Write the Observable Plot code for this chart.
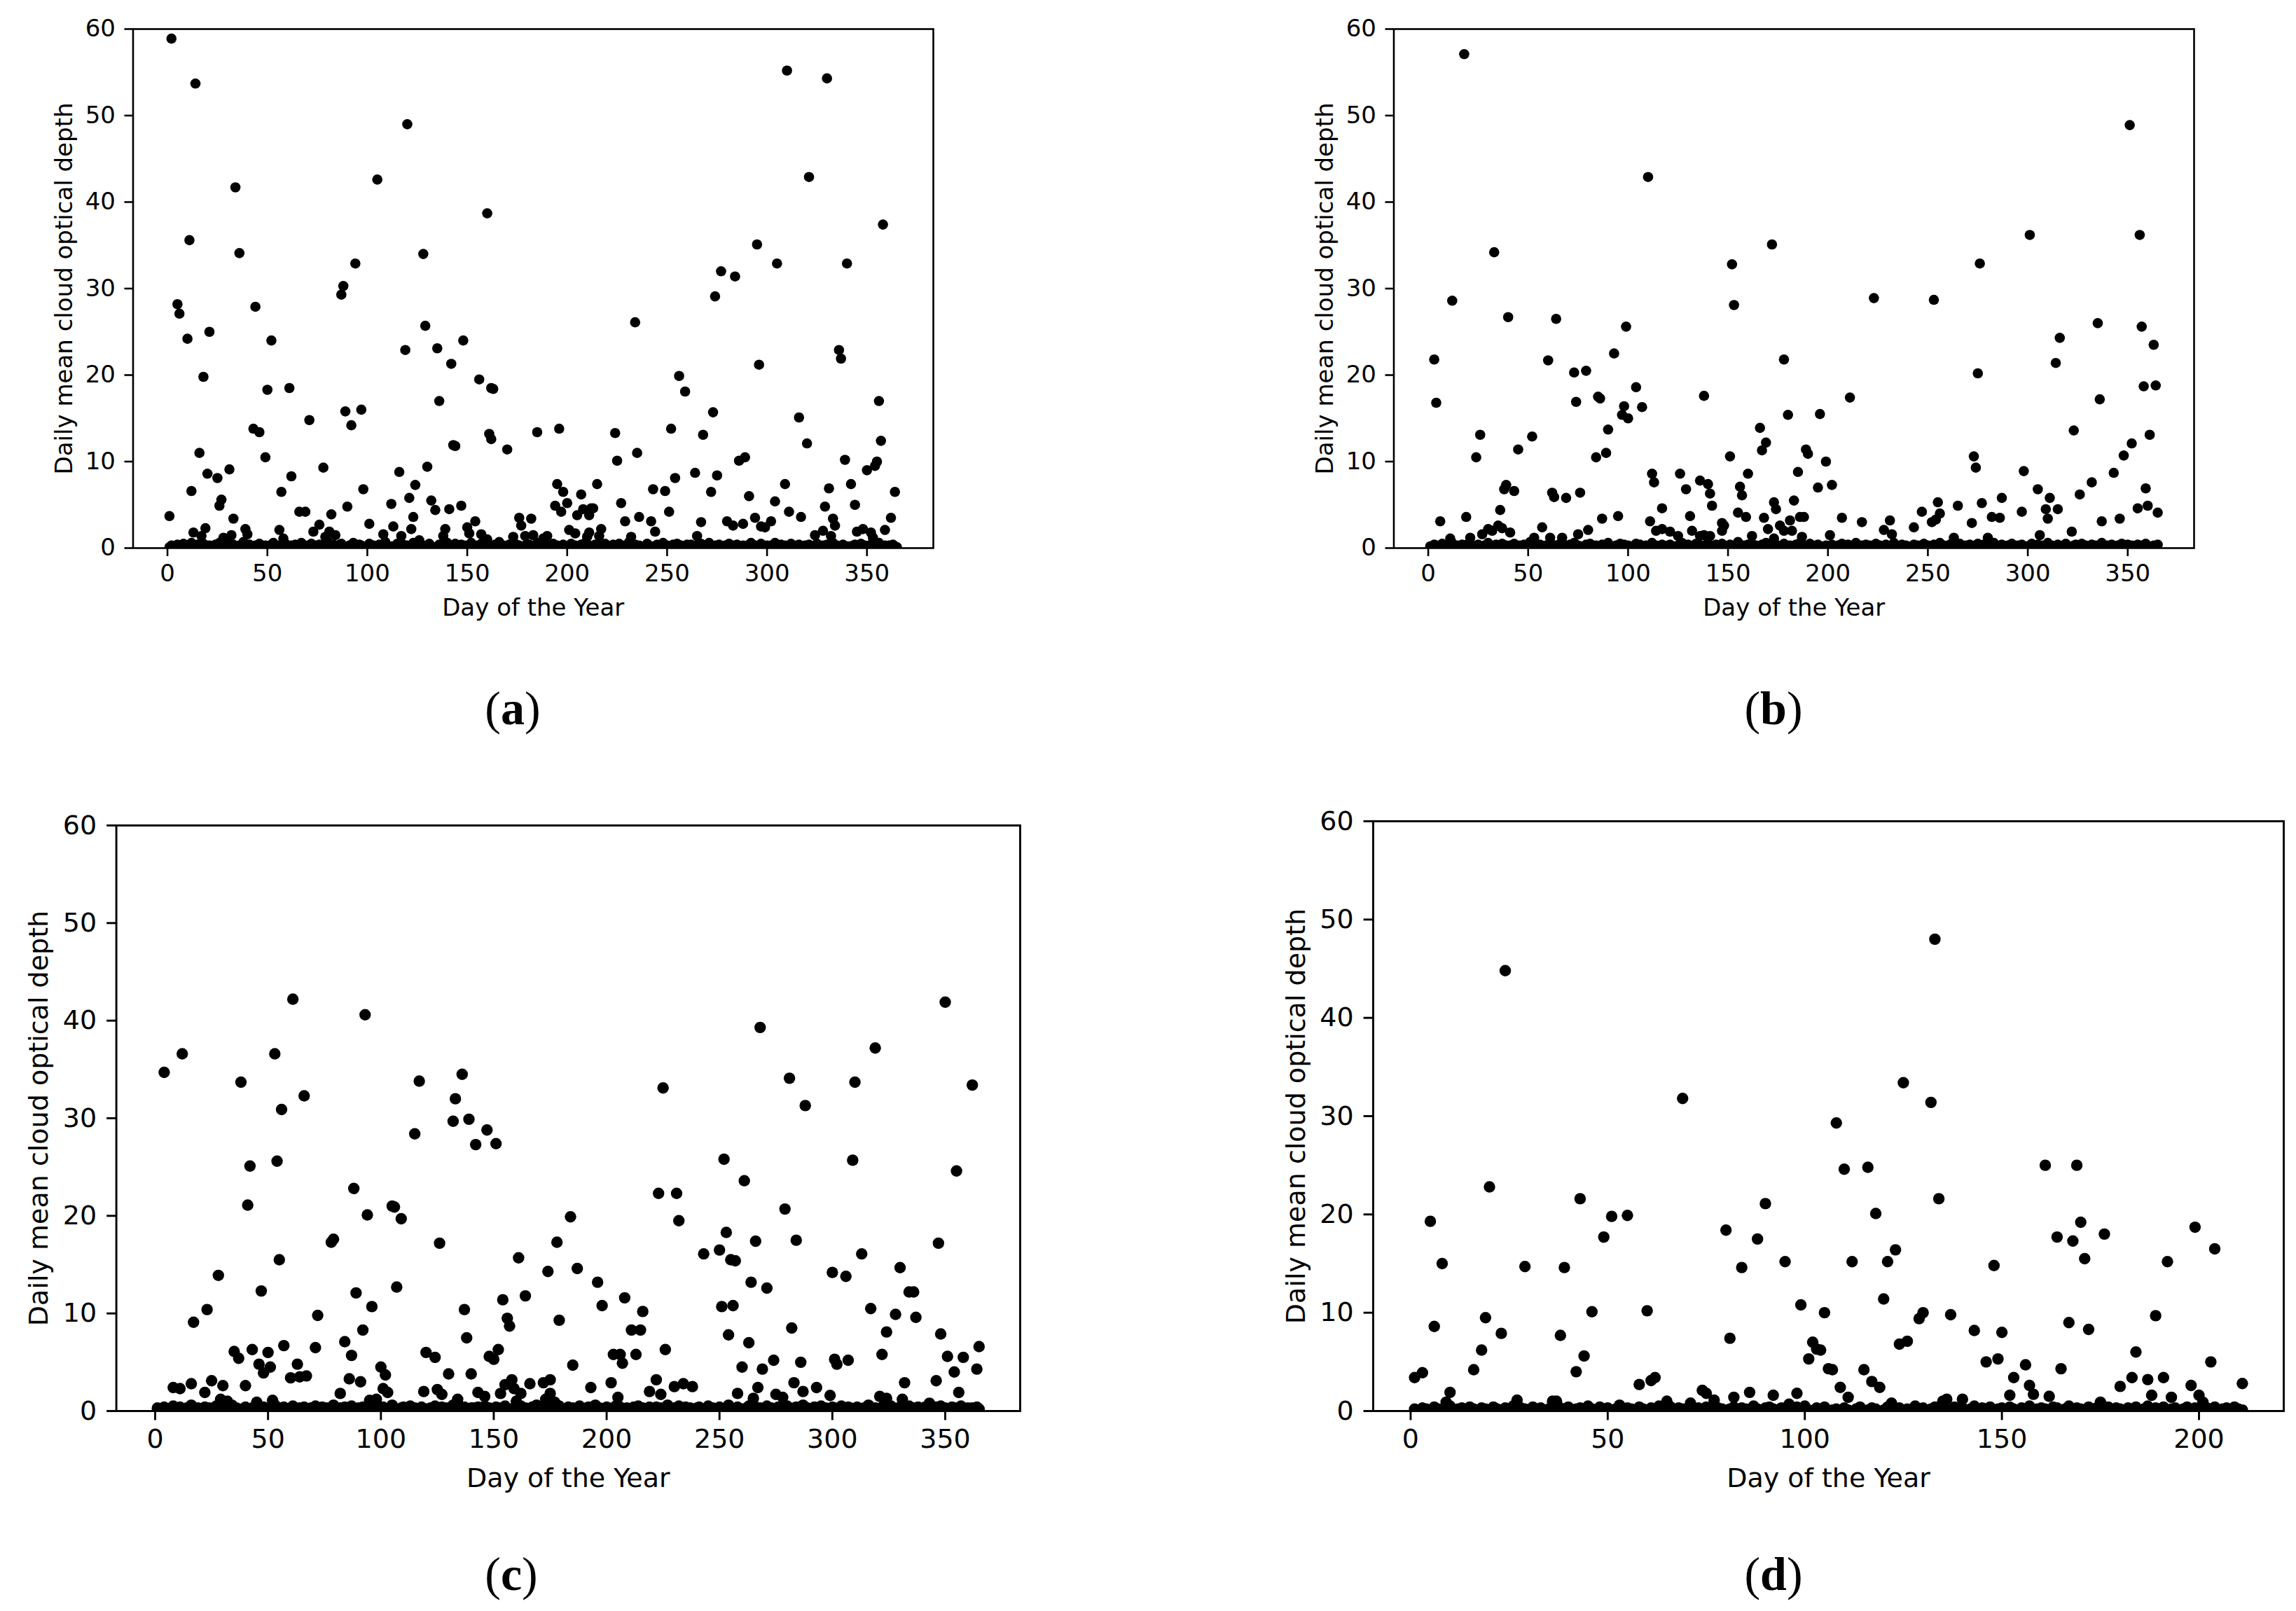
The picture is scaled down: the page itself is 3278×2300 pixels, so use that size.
<!DOCTYPE html>
<html><head><meta charset="utf-8">
<script src="https://cdn.jsdelivr.net/npm/d3@7"></script>
<script src="https://cdn.jsdelivr.net/npm/@observablehq/plot@0.6"></script>
<style>
html,body{margin:0;padding:0;background:#fff;}
#page{position:relative;width:3278px;height:2300px;background:#fff;overflow:hidden;}
#page svg{position:absolute;}
.cap{position:absolute;font-family:"Liberation Serif","DejaVu Serif",serif;font-size:68px;transform:translate(-50%,-50%);line-height:1;white-space:nowrap;color:#000;}
</style></head><body><div id="page"></div>
<script>
// ---- labels / ticks ----
const yLabel = "Daily mean cloud optical depth";
const xLabel = "Day of the Year";
const yTicks = [0, 10, 20, 30, 40, 50, 60];
const xTicksYear = [0, 50, 100, 150, 200, 250, 300, 350];
const xTicksD = [0, 50, 100, 150, 200];
const captionLetters = ["a", "b", "c", "d"];

// ---- panel (a): [day, value] of the visible (raised) points ----
const pointsA = [[2,58.9],[14,53.7],[120,49.0],[34,41.7],[105,42.6],[160,38.7],[11,35.6],[36,34.1],[128,34.0],[94,32.9],
[88,30.3],[87,29.3],[5,28.2],[6,27.1],[44,27.9],[129,25.7],[21,25.0],[10,24.2],[52,24.0],[148,24.0],
[119,22.9],[135,23.1],[142,21.3],[18,19.8],[156,19.5],[50,18.3],[61,18.5],[162,18.5],[163,18.4],[136,17.0],
[89,15.8],[97,16.0],[92,14.2],[71,14.8],[43,13.8],[46,13.4],[161,13.2],[162,12.6],[143,11.9],[144,11.8],
[185,13.4],[170,11.4],[16,11.0],[49,10.5],[31,9.1],[78,9.3],[130,9.4],[20,8.6],[25,8.1],[62,8.3],
[116,8.8],[124,7.3],[12,6.6],[57,6.5],[98,6.8],[121,5.8],[27,5.6],[26,4.9],[132,5.5],[134,4.4],
[112,5.1],[90,4.8],[141,4.5],[147,4.9],[66,4.2],[69,4.2],[82,3.9],[1,3.7],[33,3.4],[123,3.6],
[176,3.5],[182,3.4],[154,3.1],[101,2.8],[76,2.7],[150,2.4],[177,2.6],[113,2.5],[19,2.3],[39,2.2],
[56,2.1],[122,2.2],[139,2.2],[73,1.9],[13,1.8],[40,1.6],[108,1.6],[151,1.7],[157,1.6],[81,1.9],
[84,1.5],[32,1.5],[17,1.4],[117,1.4],[28,1.2],[173,1.3],[183,1.5],[179,1.4],[138,1.4],[160,1.0],
[58,1.1],[79,1.3],[126,0.9],
[310,55.2],[330,54.3],[321,42.9],[358,37.4],[295,35.1],[305,32.9],[340,32.9],[277,32.0],[284,31.4],[274,29.1],
[234,26.1],[336,22.9],[337,21.9],[296,21.2],[256,19.9],[259,18.1],[356,17.0],[273,15.7],[316,15.1],[196,13.8],
[224,13.3],[252,13.8],[268,13.1],[357,12.4],[320,12.1],[225,10.1],[235,11.0],[286,10.1],[289,10.5],[339,10.2],
[355,10.0],[354,9.5],[350,9.0],[254,8.1],[264,8.7],[275,8.4],[195,7.4],[198,6.5],[207,6.2],[215,7.4],
[243,6.8],[249,6.6],[272,6.5],[309,7.4],[331,6.9],[342,7.4],[364,6.5],[291,6.0],[194,4.9],[200,5.2],
[197,4.2],[205,3.8],[208,4.5],[212,4.6],[213,4.6],[211,3.8],[227,5.2],[251,4.2],[304,5.4],[311,4.2],
[329,4.8],[344,5.0],[362,3.5],[229,3.1],[236,3.6],[242,3.1],[267,3.0],[280,3.1],[283,2.6],[288,2.8],
[294,3.5],[297,2.5],[299,2.4],[302,3.1],[317,3.6],[333,3.4],[334,2.6],[359,2.1],[244,1.9],[324,1.5],
[328,2.0],[345,1.9],[348,2.2],[352,1.8],[353,1.2],[332,1.4],[265,1.4],[201,2.1],[204,1.7],[210,1.3],
[211,1.8],[217,2.2],[216,1.4],[190,1.4],[188,1.1],[232,1.3]];
// near-zero band, one value per day (day 1..365)
const lowA = [.1,.3,.2,0,.4,.1,.2,.5,.1,.3,.2,.6,.1,.2,.4,.3,.1,.5,.2,.1,
.3,0,.2,.4,.1,.6,.2,.3,.1,.2,.5,.1,.4,.2,0,.3,.2,.7,.1,.2,
.4,.1,.2,.3,.1,.5,.2,0,.3,.1,.2,.4,.6,.1,.2,.3,.1,.2,.5,.1,
.2,.3,.1,.4,0,.2,.6,.1,.3,.2,.1,.5,.2,.3,.1,.4,.2,.1,.3,.8,
.1,.2,.4,.1,.3,.2,.5,.1,0,.2,.3,.1,.6,.2,.1,.4,.3,.2,.1,.2,
.5,.1,.3,.2,.1,.4,.2,.1,.7,.3,.1,.2,0,.3,.5,.1,.2,.4,.1,.3,
.2,.1,.6,.2,.3,.1,.4,.2,.1,.3,.5,.2,.1,0,.2,.4,.1,.3,.2,.6,
.1,.3,.2,.5,.1,.2,.4,0,.3,.1,.2,.6,.1,.3,.2,.1,.5,.2,.4,.1,
.3,.2,.1,.4,.2,.7,.1,.3,.2,.1,.4,.2,0,.5,.1,.3,.2,.1,.3,.2,
.4,.1,.2,.3,.6,.1,.2,.4,.1,.3,.2,.1,.5,.2,.3,0,.1,.4,.2,.1,
.2,.5,.1,.3,.2,.1,.4,.2,.6,.1,.3,.2,.1,.4,.2,.3,.1,0,.5,.2,
.1,.2,.4,.1,.3,.5,.2,.1,.3,.2,.7,.1,.2,.4,.1,.3,.2,.1,.2,.5,
.3,.1,.2,0,.4,.2,.1,.6,.2,.3,.1,.2,.4,.1,.5,.2,.3,.1,.2,.4,
.2,.4,.1,.3,.2,.1,.5,.2,.3,.1,.6,.2,0,.3,.1,.4,.2,.1,.3,.2,
.5,.1,.3,.2,.4,.1,.2,.3,.1,.2,.4,.6,.1,.3,.2,.1,.5,.2,.1,.3,
.1,.3,.2,.6,.1,.2,.4,.1,.3,.2,0,.5,.2,.1,.3,.4,.1,.2,.3,.1,
.4,.2,.1,.3,.5,.1,.2,.3,.1,.4,.2,.1,.6,.2,.3,.1,.2,.4,.1,.2,
.2,.1,.3,.4,.1,.2,.5,.1,.3,.2,.1,.4,.2,.3,.1,.6,.2,.1,.3,.2,
.3,.1,.4,.2,.1];

// ---- panel (b) ----
const pointsB = [[18,57.1],[110,42.9],[33,34.2],[172,35.1],[152,32.8],[12,28.6],[153,28.1],[40,26.7],[64,26.5],[99,25.6],
[93,22.5],[3,21.8],[60,21.7],[178,21.8],[73,20.3],[79,20.5],[104,18.6],[85,17.5],[86,17.3],[138,17.6],
[4,16.8],[74,16.9],[107,16.3],[98,16.4],[97,15.4],[100,15.0],[180,15.4],[90,13.7],[166,13.9],[26,13.1],
[52,12.9],[169,12.2],[167,11.3],[45,11.4],[89,11.0],[24,10.5],[84,10.5],[151,10.6],[112,8.6],[113,7.6],
[126,8.6],[160,8.6],[185,8.8],[136,7.8],[140,7.4],[156,7.1],[129,6.8],[39,7.3],[38,6.8],[43,6.6],
[62,6.4],[63,5.9],[69,5.8],[76,6.4],[141,6.3],[157,6.1],[142,4.9],[183,5.5],[173,5.3],[174,4.5],
[117,4.6],[155,4.1],[159,3.6],[36,4.4],[19,3.6],[6,3.1],[87,3.4],[95,3.7],[131,3.7],[111,3.1],
[168,3.5],[186,3.6],[147,2.9],[148,2.6],[176,2.6],[181,3.2],[178,2.0],[182,2.0],[170,2.2],[114,2.0],
[117,2.2],[121,1.9],[125,1.4],[132,2.0],[136,1.4],[138,1.5],[141,1.4],[147,2.0],[162,1.4],[30,2.2],
[27,1.6],[32,2.0],[35,2.6],[37,2.3],[41,1.8],[21,1.2],[11,1.1],[57,2.4],[61,1.2],[53,1.2],
[75,1.6],[80,2.1],[67,1.2],[173,1.1],
[351,48.9],[301,36.2],[356,36.2],[276,32.9],[223,28.9],[253,28.7],[335,26.0],[357,25.6],[316,24.3],[363,23.5],
[314,21.4],[275,20.2],[358,18.7],[364,18.8],[211,17.4],[336,17.2],[196,15.5],[323,13.6],[361,13.1],[352,12.1],
[348,10.7],[189,11.4],[190,10.9],[199,10.0],[273,10.6],[274,9.3],[298,8.9],[343,8.7],[332,7.6],[195,7.0],
[202,7.3],[305,6.8],[326,6.2],[359,6.9],[311,5.8],[287,5.8],[255,5.3],[256,4.0],[252,3.0],[254,3.3],
[265,4.9],[277,5.2],[309,4.5],[315,4.5],[297,4.2],[247,4.2],[355,4.6],[360,4.9],[365,4.1],[188,3.6],
[207,3.5],[282,3.6],[286,3.5],[310,3.4],[337,3.1],[346,3.4],[217,3.0],[231,3.2],[272,2.9],[243,2.4],
[322,1.9],[228,2.1],[232,1.6],[201,1.5],[306,1.5],[187,1.3],[263,1.2],[280,1.2]];
const lowB = [.2,.1,.4,.3,.1,.2,.5,.1,.2,.3,.1,.6,.2,.1,.3,.2,.4,.1,.2,.5,
.1,.3,.2,.1,.4,.2,0,.3,.1,.6,.2,.1,.3,.4,.1,.2,.5,.1,.3,.2,
.3,.1,.5,.2,.1,.3,.2,.4,.1,.2,.7,.1,.3,.2,.1,.4,.2,0,.3,.1,
.2,.4,.1,.3,.2,.5,.1,.2,.3,.1,.4,.2,.6,.1,.3,.2,.1,.2,.4,.1,
.5,.2,.1,.3,.1,.2,.4,.1,.3,.6,.2,.1,.2,.3,.1,.5,.2,.4,.1,.3,
.1,.2,.3,.5,.1,.4,.2,.1,.3,.2,.1,.6,.2,.3,.1,.2,.4,.1,.2,.3,
.4,.1,.2,.1,.3,.2,.6,.2,.1,.4,.3,.1,.2,.5,.1,.3,.2,.1,.4,.2,
.2,.3,.1,.4,.2,.1,.5,.3,.1,.2,.4,.1,.3,.2,.7,.1,.2,.3,.1,.4,
.1,.5,.2,.3,.1,.2,.4,.1,.6,.2,.1,.3,.2,.4,.1,.2,.3,.5,.1,.2,
.3,.2,.1,.4,.2,.6,.1,.3,.2,.1,.5,.2,.1,.3,.4,.1,.2,.1,.3,.2,
.2,.4,.1,.2,.3,.1,.5,.2,.1,.4,.2,.3,.1,.6,.2,.1,.3,.2,.4,.1,
.3,.1,.2,.5,.1,.3,.2,.1,.4,.2,.1,.3,.6,.2,.1,.2,.4,.1,.3,.2,
.1,.2,.4,.1,.3,.2,.1,.5,.2,.3,.1,.2,.4,.1,.2,.6,.1,.3,.2,.1,
.4,.2,.1,.3,.2,.5,.1,.2,.3,.1,.4,.2,.1,.3,.5,.2,.1,.4,.2,.3,
.2,.1,.6,.2,.1,.3,.4,.1,.2,.3,.1,.5,.2,.1,.3,.2,.4,.1,.2,.1,
.3,.5,.1,.2,.4,.1,.3,.2,.1,.6,.2,.3,.1,.2,.4,.1,.2,.3,.5,.1,
.2,.1,.3,.4,.1,.2,.5,.1,.3,.2,.1,.4,.2,.3,.1,.2,.6,.1,.2,.3,
.1,.4,.2,.1,.3,.2,.5,.1,.2,.4,.1,.3,.2,.1,.4,.2,.3,.1,.5,.2,
.2,.1,.3,.2,.4];

// ---- panel (c) ----
const pointsC = [[61,42.2],[93,40.6],[12,36.6],[53,36.6],[4,34.7],[38,33.7],[117,33.8],[136,34.5],[66,32.3],[133,32.0],
[56,30.9],[132,29.7],[139,29.9],[147,28.8],[115,28.4],[142,27.3],[151,27.4],[54,25.6],[42,25.1],[88,22.8],
[41,21.1],[105,21.0],[106,20.9],[94,20.1],[109,19.7],[79,17.6],[78,17.3],[126,17.2],[178,17.3],[55,15.5],
[161,15.7],[174,14.3],[28,13.9],[107,12.7],[47,12.3],[89,12.1],[154,11.4],[164,11.8],[96,10.7],[23,10.4],
[137,10.4],[72,9.8],[17,9.1],[156,9.5],[157,8.7],[179,9.3],[92,8.3],[138,7.5],[84,7.1],[57,6.7],
[71,6.5],[43,6.3],[35,6.1],[37,5.4],[120,6.0],[124,5.5],[87,5.7],[152,6.3],[148,5.6],[150,5.3],
[50,6.0],[46,4.8],[51,4.5],[48,3.9],[63,4.8],[100,4.5],[102,3.7],[130,3.8],[140,3.8],[60,3.4],
[64,3.5],[67,3.6],[25,3.1],[16,2.8],[8,2.4],[11,2.3],[30,2.6],[40,2.6],[86,3.3],[91,3.0],
[166,2.8],[158,3.2],[155,2.7],[159,2.3],[175,3.2],[172,2.9],[153,1.8],[22,1.9],[82,1.8],[101,2.3],
[103,1.9],[119,2.0],[125,2.2],[127,1.7],[143,1.9],[146,1.5],[162,1.8],[29,1.2],[32,1.0],[52,1.1],
[45,0.9],[95,1.1],[98,1.2],[134,1.2],[160,1.0],[173,1.2],[175,1.8],[177,0.9],
[350,41.9],[268,39.3],[319,37.2],[281,34.1],[310,33.7],[225,33.1],[362,33.4],[288,31.3],[252,25.8],[309,25.7],
[355,24.6],[261,23.6],[223,22.3],[231,22.3],[184,19.9],[232,19.5],[279,20.7],[253,18.3],[266,17.4],[284,17.5],
[347,17.2],[243,16.1],[250,16.5],[255,15.5],[257,15.4],[313,16.1],[187,14.6],[330,14.7],[196,13.2],[264,13.2],
[300,14.2],[306,13.8],[271,12.6],[334,12.2],[336,12.2],[208,11.6],[198,10.8],[251,10.7],[256,10.8],[216,10.2],
[317,10.5],[328,9.9],[337,9.6],[211,8.3],[215,8.3],[282,8.5],[324,8.1],[254,7.8],[348,7.9],[263,7.0],
[226,6.3],[365,6.6],[203,5.8],[206,5.8],[207,4.9],[213,5.8],[322,5.8],[351,5.6],[358,5.5],[274,5.2],
[301,5.3],[302,4.8],[307,5.2],[286,5.0],[185,4.7],[260,4.5],[269,4.3],[364,4.3],[354,4.0],[222,3.2],
[202,2.9],[346,3.1],[332,2.9],[283,2.9],[193,2.4],[234,2.8],[238,2.5],[230,2.5],[219,2.0],[267,2.4],
[258,1.8],[287,2.0],[293,2.4],[356,1.9],[205,1.4],[224,1.7],[275,1.7],[278,1.4],[265,1.3],[321,1.5],
[324,1.3],[331,1.2],[343,0.8],[299,1.6]];
const lowC = [.3,.2,.1,.4,.2,.1,.3,.5,.1,.2,.4,.1,.2,.3,.1,.6,.2,.1,.3,.2,
.1,.4,.2,.3,.1,.2,.5,.1,.3,.2,.1,.4,.2,.6,.1,.3,.2,.1,.2,.4,
.2,.1,.3,.2,.5,.1,.2,.4,.1,.3,.2,.1,.6,.2,.3,.1,.4,.2,.1,.3,
.5,.2,.1,.3,.2,.4,.1,.2,.3,.1,.5,.2,.1,.4,.2,.3,.1,.2,.6,.1,
.2,.3,.1,.4,.1,.2,.5,.2,.1,.3,.2,.4,.1,.3,.2,.1,.5,.2,.3,.1,
.4,.1,.2,.3,.6,.1,.2,.1,.3,.4,.2,.1,.5,.2,.3,.1,.2,.4,.1,.2,
.1,.3,.2,.5,.1,.2,.4,.1,.3,.2,.1,.6,.2,.1,.3,.2,.4,.1,.2,.3,
.3,.1,.4,.2,.1,.5,.2,.3,.1,.2,.4,.1,.3,.2,.5,.1,.2,.1,.3,.4,
.2,.5,.1,.3,.2,.1,.4,.2,.6,.1,.3,.2,.1,.4,.2,.3,.1,.2,.5,.1,
.1,.2,.4,.1,.3,.2,.1,.5,.2,.1,.3,.4,.2,.1,.6,.2,.3,.1,.2,.4,
.3,.1,.2,.5,.1,.4,.2,.1,.3,.2,.1,.4,.2,.5,.1,.3,.2,.1,.4,.2,
.2,.4,.1,.3,.2,.1,.6,.2,.1,.3,.2,.5,.1,.2,.4,.1,.3,.2,.1,.3,
.4,.2,.1,.2,.5,.1,.3,.2,.1,.4,.2,.1,.3,.6,.2,.1,.2,.4,.1,.2,
.1,.3,.5,.1,.2,.4,.1,.3,.2,.1,.5,.2,.3,.1,.2,.4,.1,.2,.3,.5,
.2,.1,.3,.4,.1,.2,.6,.1,.3,.2,.1,.4,.2,.1,.5,.2,.3,.1,.2,.4,
.3,.2,.1,.5,.2,.1,.4,.3,.1,.2,.4,.1,.2,.3,.1,.6,.2,.1,.3,.2,
.1,.4,.2,.3,.1,.5,.2,.1,.3,.2,.4,.1,.2,.5,.1,.3,.2,.4,.1,.2,
.4,.1,.3,.2,.1,.4,.2,.5,.1,.3,.2,.1,.4,.2,.3,.1,.5,.2,.1,.3,
.2,.3,.1,.4,.2];

// ---- panel (d) ----
const pointsD = [[24,44.8],[69,31.8],[20,22.8],[43,21.6],[90,21.1],[51,19.8],[55,19.9],[5,19.3],[80,18.4],[49,17.7],
[88,17.5],[8,15.0],[29,14.7],[39,14.6],[84,14.6],[95,15.2],[99,10.8],[105,10.0],[46,10.1],[60,10.2],
[19,9.5],[6,8.6],[23,7.9],[38,7.7],[81,7.4],[102,7.0],[103,6.3],[104,6.2],[18,6.2],[44,5.6],
[101,5.3],[16,4.2],[42,4.0],[106,4.3],[1,3.4],[3,3.9],[62,3.4],[61,3.1],[58,2.7],[74,2.1],
[75,1.8],[86,1.9],[92,1.6],[98,1.8],[82,1.4],[10,1.9],[9,0.9],[27,1.1],[36,1.0],[37,1.0],
[65,1.0],[77,1.1],[71,0.8],[96,0.7],[100,0.5],
[133,48.0],[125,33.4],[132,31.4],[108,29.3],[110,24.6],[116,24.8],[161,25.0],[169,25.0],[134,21.6],[118,20.1],
[170,19.2],[199,18.7],[176,18.0],[164,17.7],[168,17.3],[123,16.4],[204,16.5],[171,15.5],[112,15.2],[121,15.2],
[192,15.2],[148,14.8],[120,11.4],[130,10.0],[129,9.4],[137,9.8],[189,9.7],[143,8.2],[150,8.0],[167,9.0],
[172,8.3],[124,6.8],[126,7.1],[184,6.0],[146,5.0],[149,5.3],[156,4.7],[165,4.3],[203,5.0],[107,4.2],
[115,4.2],[153,3.4],[183,3.4],[187,3.2],[191,3.4],[211,2.8],[109,2.4],[111,1.4],[117,3.0],[119,2.4],
[157,2.6],[158,1.7],[180,2.5],[198,2.6],[200,1.6],[152,1.6],[162,1.5],[188,1.6],[193,1.4],[122,0.8],
[135,1.0],[136,1.2],[140,1.2],[201,0.9],[175,0.9]];
const lowD = [.2,.1,.3,.2,.1,.4,.2,.1,.3,.5,.1,.2,.3,.1,.4,.2,.1,.3,.2,.1,
.4,.2,.1,.3,.2,.5,.1,.3,.2,.1,.4,.2,.3,.1,.2,.5,.1,.3,.2,.4,
.1,.2,.3,.1,.5,.2,.1,.4,.2,.3,.1,.2,.6,.1,.3,.2,.1,.4,.2,.1,
.3,.2,.5,.1,.2,.4,.1,.3,.2,.1,.5,.2,.3,.1,.4,.2,.1,.3,.2,.1,
.2,.4,.1,.3,.2,.1,.5,.2,.1,.3,.4,.2,.1,.3,.2,null,.1,.4,.2,.3,
.1,null,.3,.2,.4,null,.1,.2,null,.3,.1,null,.2,.4,null,.1,.3,.2,null,.1,
.4,.2,.1,.3,null,.2,.1,.5,.2,.3,.1,.2,.4,.1,.3,.2,.1,.4,.2,.3,
.1,.2,.5,.1,.3,.2,.4,.1,.2,.3,.1,.4,.2,.1,.3,.2,.5,.1,.2,.3,
.2,.1,.4,.3,.1,.2,.5,.1,.3,.2,.1,.4,.2,.3,.1,.2,.4,.1,.3,.2,
.1,.3,.2,.4,.1,.2,.5,.1,.3,.2,.4,.1,.2,.3,.1,.2,.4,.1,.3,.2,
.1,.3,.2,.4,.1,.2,.3,.1,.4,.2,.1];

// ---- layout of the four panels (pixels) ----
const panels = [
  {points: pointsA, low: lowA, left: 0,    top: 0,    width: 1400, height: 930,  ml: 189.5, mr: 68, mt: 41,  mb: 148, xDomain: [-17.2, 383.2], xTicks: xTicksYear, font: 34, r: 7.3, lw: 2.6, tick: 12, pad: 11, ylab: 98,  xlab: 86, cap: [732, 1011]},
  {points: pointsB, low: lowB, left: 1800, top: 0,    width: 1400, height: 930,  ml: 189.5, mr: 68, mt: 41,  mb: 148, xDomain: [-17.2, 383.2], xTicks: xTicksYear, font: 34, r: 7.3, lw: 2.6, tick: 12, pad: 11, ylab: 98,  xlab: 86, cap: [2532, 1011]},
  {points: pointsC, low: lowC, left: 0,    top: 1100, width: 1500, height: 1150, ml: 165.6, mr: 44, mt: 78,  mb: 236, xDomain: [-17.2, 383.2], xTicks: xTicksYear, font: 38, r: 8.2, lw: 2.9, tick: 13.4, pad: 12.5, ylab: 110, xlab: 96, cap: [730, 2247]},
  {points: pointsD, low: lowD, left: 1800, top: 1100, width: 1478, height: 1150, ml: 160,   mr: 18, mt: 72,  mb: 236, xDomain: [-9.5, 221.5],  xTicks: xTicksD,    font: 38, r: 8.2, lw: 2.9, tick: 13.4, pad: 12.5, ylab: 110, xlab: 96, cap: [2532, 2247]}
];

const page = document.getElementById("page");
panels.forEach((p, k) => {
  const high = p.points.map(([d, v]) => ({day: d, v}));
  const low = p.low.map((v, i) => ({day: i + 1, v}));
  const svg = Plot.plot({
    width: p.width, height: p.height,
    marginLeft: p.ml, marginRight: p.mr, marginTop: p.mt, marginBottom: p.mb,
    x: {domain: p.xDomain},
    y: {domain: [0, 60]},
    style: {fontFamily: "'DejaVu Sans', sans-serif", fontSize: p.font + "px", color: "#000", background: "transparent", overflow: "visible"},
    marks: [
      Plot.dot(low, {x: "day", y: "v", r: p.r, fill: "#000", clip: true}),
      Plot.dot(high, {x: "day", y: "v", r: p.r, fill: "#000", clip: true}),
      Plot.frame({stroke: "#000", strokeWidth: p.lw}),
      Plot.axisX(p.xTicks, {tickSize: p.tick, tickPadding: p.pad, fontSize: p.font, strokeWidth: p.lw, label: null, tickFormat: d => String(d)}),
      Plot.axisY(yTicks, {tickSize: p.tick, tickPadding: p.pad + 2, fontSize: p.font, strokeWidth: p.lw, label: null, tickFormat: d => String(d)}),
      Plot.text([xLabel], {text: d => d, frameAnchor: "bottom", dy: p.xlab, fontSize: p.font, lineAnchor: "middle", fill: "#000"}),
      Plot.text([yLabel], {text: d => d, frameAnchor: "left", dx: -p.ylab, rotate: -90, fontSize: p.font, textAnchor: "middle", lineAnchor: "middle", fill: "#000"})
    ]
  });
  svg.style.left = p.left + "px";
  svg.style.top = p.top + "px";
  page.appendChild(svg);
  const cap = document.createElement("div");
  cap.className = "cap";
  cap.style.left = p.cap[0] + "px";
  cap.style.top = p.cap[1] + "px";
  cap.innerHTML = "(<b>" + captionLetters[k] + "</b>)";
  page.appendChild(cap);
});
</script>
</body></html>
